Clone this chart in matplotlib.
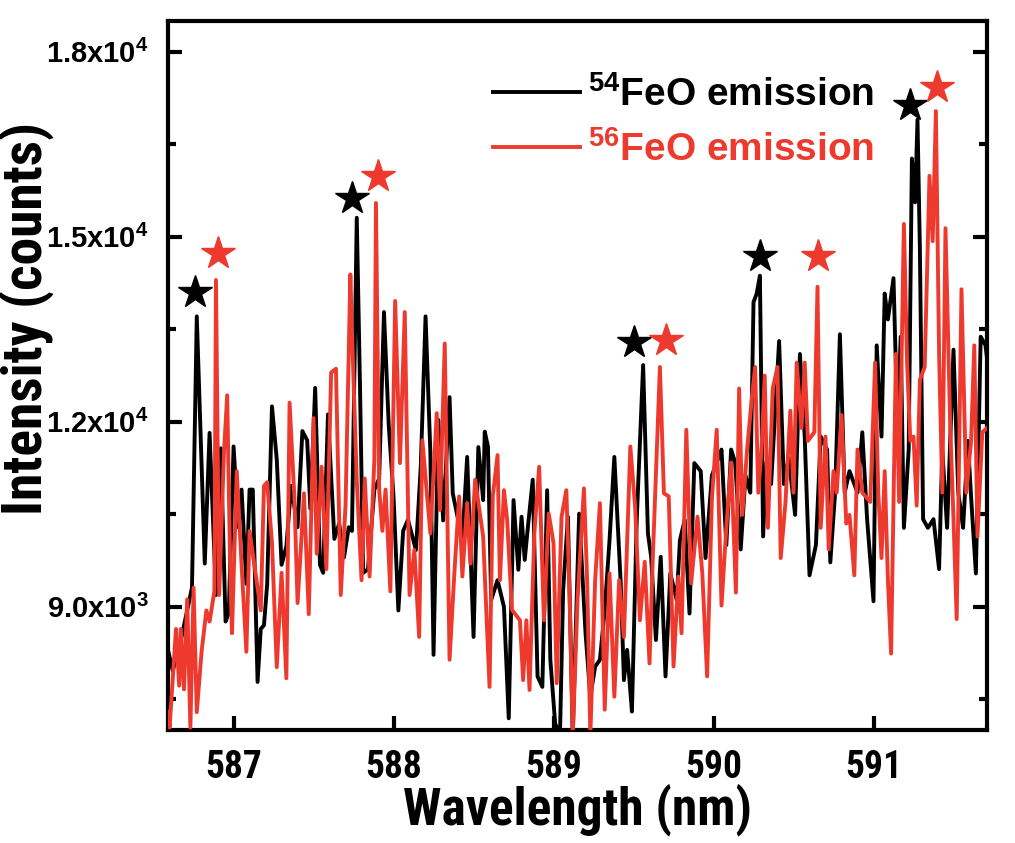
import matplotlib
matplotlib.use("Agg")
import matplotlib.pyplot as plt
from matplotlib.ticker import FixedLocator

plt.rcParams["mathtext.fontset"] = "custom"
plt.rcParams["mathtext.rm"] = "Liberation Sans:bold"
plt.rcParams["mathtext.bf"] = "Liberation Sans:bold"
plt.rcParams["mathtext.it"] = "Liberation Sans:bold"
plt.rcParams["mathtext.default"] = "rm"

NARROW = ["Roboto Condensed", "Liberation Sans Narrow", "Liberation Sans", "DejaVu Sans"]
WIDE = ["Liberation Sans", "DejaVu Sans"]

# 54FeO emission spectrum (wavelength nm, counts)
black_wl = [586.59, 586.62, 586.67, 586.74, 586.77, 586.82, 586.85, 586.89, 586.92, 586.95,
            586.97, 587.00, 587.03, 587.05, 587.08, 587.10, 587.12, 587.15, 587.17, 587.19,
            587.21, 587.24, 587.27, 587.30, 587.33, 587.36, 587.40, 587.43, 587.46, 587.48,
            587.51, 587.54, 587.56, 587.59, 587.63, 587.66, 587.69, 587.72, 587.74, 587.77,
            587.79, 587.81, 587.84, 587.88, 587.91, 587.94, 587.97, 588.00, 588.03, 588.06,
            588.09, 588.14, 588.17, 588.20, 588.23, 588.25, 588.28, 588.31, 588.35, 588.37,
            588.43, 588.46, 588.50, 588.53, 588.56, 588.57, 588.59, 588.61, 588.65, 588.69,
            588.72, 588.75, 588.78, 588.80, 588.82, 588.84, 588.87, 588.90, 588.93, 588.96,
            588.98, 589.01, 589.04, 589.06, 589.09, 589.12, 589.16, 589.20, 589.23, 589.26,
            589.29, 589.32, 589.35, 589.38, 589.42, 589.44, 589.46, 589.49, 589.52, 589.56,
            589.59, 589.61, 589.64, 589.67, 589.70, 589.73, 589.77, 589.79, 589.82, 589.85,
            589.88, 589.92, 589.95, 589.99, 590.05, 590.08, 590.11, 590.135, 590.17, 590.20,
            590.23, 590.25, 590.27, 590.29, 590.31, 590.33, 590.36, 590.41, 590.44, 590.47,
            590.51, 590.54, 590.57, 590.60, 590.64, 590.67, 590.71, 590.73, 590.76, 590.79,
            590.82, 590.85, 590.90, 590.93, 590.96, 591.00, 591.02, 591.05, 591.07, 591.09,
            591.125, 591.15, 591.17, 591.19, 591.22, 591.24, 591.26, 591.275, 591.29, 591.31,
            591.34, 591.375, 591.41, 591.43, 591.46, 591.50, 591.53, 591.56, 591.59, 591.61,
            591.64, 591.67, 591.70, 591.72]
black_counts = [8300, 7960, 8450, 9310, 13710, 9700, 11820, 9190, 11570, 8760,
                8900, 11600, 10290, 10900, 9370, 10900, 10900, 7780, 8640, 8700,
                9370, 12250, 11390, 9680, 9980, 10960, 10290, 11850, 11700, 10590,
                12550, 9680, 9550, 12120, 10100, 10350, 9800, 10290, 10230, 15310,
                12610, 9550, 9610, 10900, 11080, 13780, 11940, 10780, 8940, 10230,
                10410, 9920, 11270, 13710, 11510, 8220, 12030, 10400, 12400, 10840,
                10080, 11430, 8510, 11590, 10730, 11840, 11600, 9110, 9430, 9000,
                7190, 10730, 9600, 10460, 9760, 10300, 11060, 7870, 7700, 10890,
                8140, 7110, 6900, 9270, 10460, 6900, 10510, 8570, 7540, 8030,
                8140, 8950, 10080, 11430, 9380, 7810, 8300, 7300, 10410, 12920,
                10190, 9810, 8460, 9810, 7870, 9540, 9110, 10080, 10410, 8890,
                11330, 11200, 9790, 11130, 11550, 10000, 11550, 11340, 9930, 11130,
                10850, 13940, 14080, 14370, 10140, 11340, 10990, 13310, 10990, 11410,
                10490, 13100, 11760, 9510, 10000, 11760, 11550, 9720, 10850, 13420,
                10850, 11200, 10850, 11830, 10420, 9090, 13240, 11760, 14080, 13660,
                14330, 11900, 13380, 10280, 11550, 16270, 15560, 16900, 14790, 10420,
                10280, 10420, 9610, 11550, 10280, 13170, 10850, 10280, 11690, 10780,
                9540, 13380, 13240, 12800]

# 56FeO emission spectrum (wavelength nm, counts)
red_wl = [586.59, 586.60, 586.64, 586.66, 586.67, 586.69, 586.71, 586.73, 586.75, 586.77,
          586.80, 586.83, 586.85, 586.88, 586.89, 586.91, 586.94, 586.96, 586.98, 586.99,
          587.02, 587.05, 587.08, 587.10, 587.14, 587.17, 587.19, 587.21, 587.24, 587.27,
          587.30, 587.33, 587.35, 587.38, 587.40, 587.42, 587.44, 587.47, 587.50, 587.52,
          587.55, 587.58, 587.61, 587.64, 587.67, 587.70, 587.73, 587.74, 587.77, 587.80,
          587.82, 587.85, 587.88, 587.89, 587.91, 587.93, 587.95, 587.98, 588.01, 588.04,
          588.07, 588.10, 588.13, 588.16, 588.18, 588.23, 588.27, 588.29, 588.32, 588.35,
          588.38, 588.41, 588.43, 588.46, 588.48, 588.51, 588.56, 588.60, 588.62, 588.65,
          588.665, 588.69, 588.71, 588.74, 588.79, 588.81, 588.83, 588.85, 588.88, 588.91,
          588.94, 588.97, 589.00, 589.02, 589.05, 589.08, 589.10, 589.12, 589.15, 589.19,
          589.21, 589.23, 589.26, 589.29, 589.32, 589.35, 589.38, 589.41, 589.44, 589.48,
          589.51, 589.54, 589.57, 589.60, 589.62, 589.665, 589.69, 589.72, 589.75, 589.78,
          589.80, 589.83, 589.86, 589.90, 589.93, 589.96, 589.99, 590.02, 590.05, 590.08,
          590.11, 590.14, 590.16, 590.18, 590.21, 590.24, 590.26, 590.28, 590.30, 590.32,
          590.34, 590.37, 590.40, 590.42, 590.45, 590.48, 590.50, 590.52, 590.55, 590.57,
          590.59, 590.63, 590.65, 590.67, 590.70, 590.72, 590.75, 590.77, 590.80, 590.83,
          590.85, 590.88, 590.90, 590.93, 590.98, 591.01, 591.03, 591.05, 591.07, 591.09,
          591.11, 591.14, 591.16, 591.19, 591.21, 591.23, 591.25, 591.27, 591.29, 591.32,
          591.35, 591.37, 591.39, 591.41, 591.43, 591.45, 591.48, 591.50, 591.52, 591.55,
          591.58, 591.61, 591.63, 591.65, 591.68, 591.71]
red_counts = [7300, 7040, 8640, 7720, 8640, 7660, 9120, 7040, 9310, 7290,
              8270, 8940, 8760, 9250, 14300, 9190, 11510, 12430, 9490, 8570,
              11200, 9680, 8270, 10230, 9490, 8940, 10960, 11020, 10040, 8020,
              9550, 7840, 12310, 10780, 9060, 9920, 10840, 8880, 12060, 9860,
              11270, 9610, 12800, 12860, 9190, 10650, 14390, 13470, 11050, 9430,
              11080, 9490, 11390, 15550, 10900, 10230, 10900, 9250, 13960, 11330,
              13780, 9190, 9920, 8510, 11700, 10190, 12140, 10570, 13270, 8140,
              9540, 10790, 9490, 10680, 9700, 11060, 10140, 7700, 10790, 11460,
              9430, 10890, 10410, 8950, 8780, 7810, 8780, 7650, 10190, 11270,
              8780, 10510, 10030, 7760, 10460, 10890, 9220, 6900, 9110, 10920,
              9430, 6900, 9430, 10680, 7330, 9540, 7540, 9430, 8510, 11600,
              10620, 8780, 9730, 8080, 9760, 12890, 10840, 10790, 8030, 9490,
              8570, 11870, 9380, 10460, 9540, 7870, 10760, 11870, 9020, 10280,
              11340, 9230, 12540, 10490, 11550, 12400, 12890, 10850, 11550, 12750,
              10280, 12540, 12890, 9790, 10700, 12180, 10850, 12960, 11900, 12960,
              11690, 11830, 14190, 10280, 11760, 9930, 11200, 10850, 12110, 10350,
              10490, 9510, 11550, 10850, 10700, 12960, 10850, 9790, 11200, 9440,
              8240, 13100, 10700, 15210, 12960, 11690, 11760, 10640, 12680, 12890,
              15990, 14930, 17040, 13100, 10850, 15140, 11900, 10420, 8800, 14150,
              10850, 11690, 13240, 10140, 11830, 11900]

# peak markers
black_star_wl = [586.76, 587.74, 589.50, 590.29, 591.23]
black_star_counts = [14100, 15630, 13300, 14690, 17140]
red_star_wl = [586.90, 587.90, 589.70, 590.65, 591.40]
red_star_counts = [14740, 15990, 13330, 14690, 17430]

y_ticks = [9000, 12000, 15000, 18000]
y_tick_labels = ["9.0x10$^{3}$", "1.2x10$^{4}$", "1.5x10$^{4}$", "1.8x10$^{4}$"]
y_minor = [7500, 10500, 13500, 16500]
x_ticks = [587, 588, 589, 590, 591]

RED = "#ee3a2e"

fig = plt.figure(figsize=(10.15, 8.43), dpi=100)
ax = fig.add_axes([0.1655, 0.134, 0.807, 0.841])

ax.plot(black_wl, black_counts, color="black", lw=2.8, label="$^{54}$FeO emission", zorder=2)
ax.plot(red_wl, red_counts, color=RED, lw=2.8, label="$^{56}$FeO emission", zorder=3)
ax.plot(black_star_wl, black_star_counts, ls="none", marker="*", ms=25, color="black", zorder=4)
ax.plot(red_star_wl, red_star_counts, ls="none", marker="*", ms=25, color=RED, zorder=4)

ax.set_xlim(586.59, 591.71)
ax.set_ylim(7000, 18500)
ax.set_xticks(x_ticks)
ax.set_xticklabels([str(t) for t in x_ticks], family=NARROW, weight="bold", fontsize=27)
ax.yaxis.set_major_locator(FixedLocator(y_ticks))
ax.yaxis.set_minor_locator(FixedLocator(y_minor))
ax.set_yticklabels(y_tick_labels, family=WIDE, weight="bold", fontsize=21)

ax.tick_params(axis="both", which="major", direction="in", length=10, width=3)
ax.tick_params(axis="x", which="major", pad=14)
ax.tick_params(axis="y", which="minor", direction="in", length=6, width=3, right=True)
ax.tick_params(axis="y", which="major", right=True, pad=14)
for sp in ax.spines.values():
    sp.set_linewidth(3)

ax.set_xlabel("Wavelength (nm)", family=NARROW, weight="bold", fontsize=37, labelpad=-2)
ax.set_ylabel("Intensity (counts)", family=NARROW, weight="bold", fontsize=40)
ax.yaxis.set_label_coords(-0.138, 0.58)

leg = ax.legend(loc="upper right", bbox_to_anchor=(0.905, 0.972), frameon=False,
                prop=dict(family=WIDE, weight="bold", size=28), handlelength=2.25,
                handletextpad=0.2, labelspacing=0.45)
leg.get_texts()[1].set_color(RED)

fig.savefig("out.png", dpi=100)
